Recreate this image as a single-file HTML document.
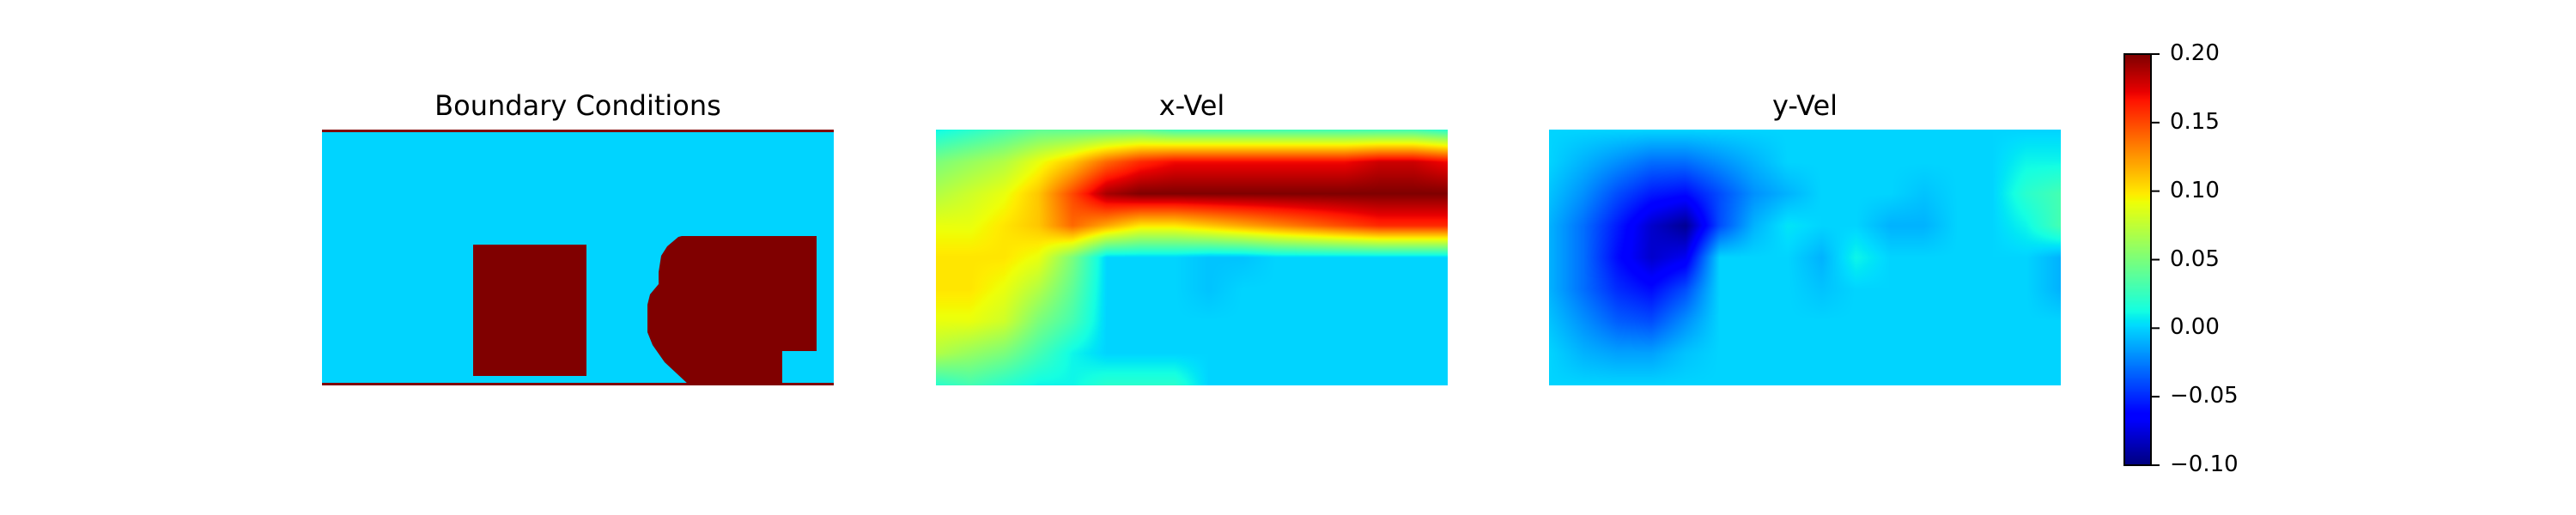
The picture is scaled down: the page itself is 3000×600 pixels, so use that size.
<!DOCTYPE html>
<html><head><meta charset="utf-8"><style>
body{margin:0;background:#fff;width:3000px;height:600px;position:relative;overflow:hidden;font-family:"Liberation Sans","DejaVu Sans",sans-serif}
.t{position:absolute;font-size:32px;color:#000;text-align:center;width:596px;top:104px;font-family:"DejaVu Sans","Liberation Sans",sans-serif}
canvas{position:absolute}
.lab{position:absolute;font-size:26px;left:2527px;font-family:"DejaVu Sans","Liberation Sans",sans-serif}
</style></head><body>
<div class="t" style="left:375px">Boundary Conditions</div>
<div class="t" style="left:1090px">x-Vel</div>
<div class="t" style="left:1804px">y-Vel</div>
<svg style="position:absolute;left:375px;top:151px" width="596" height="298">
<rect x="0" y="0" width="596" height="298" fill="#00d4ff"/>
<rect x="0" y="0" width="596" height="3" fill="#800000"/>
<rect x="0" y="295" width="596" height="3" fill="#800000"/>
<rect x="176" y="134" width="132" height="153" fill="#800000"/>
<polygon points="419,124 576,124 576,258 536,258 536,298 428,298 399,271 385,251 379,236 379,204 382,192 392,180 392,166 395,147 402,136 415,125" fill="#800000"/>
</svg>
<canvas id="cx" width="596" height="298" style="left:1090px;top:151px"></canvas>
<canvas id="cy" width="596" height="298" style="left:1804px;top:151px"></canvas>
<canvas id="cb" width="31" height="479" style="left:2474px;top:63px"></canvas>
<svg style="position:absolute;left:2470px;top:55px" width="60" height="500" id="cbax">
<rect x="4" y="8" width="31" height="479" fill="none" stroke="#000" stroke-width="2"/>
</svg>
<div id="labs"></div>
<script>
const vmin=-0.1, vmax=0.2;
const cbTicks=[0.20,0.15,0.10,0.05,0.00,-0.05,-0.10];
const cbTickLabels=["0.20","0.15","0.10","0.05","0.00","\u22120.05","\u22120.10"];
const xvelRows=[
[0.01,0.02,0.03,0.04,0.04,0.04,0.04,0.03,0.03,0.03,0.03,0.03,0.03,0.03,0.03,0.02],
[0.05,0.06,0.07,0.09,0.11,0.14,0.16,0.17,0.17,0.17,0.17,0.17,0.17,0.18,0.18,0.17],
[0.07,0.08,0.09,0.11,0.15,0.19,0.2,0.2,0.2,0.2,0.2,0.2,0.2,0.2,0.2,0.2],
[0.09,0.09,0.1,0.11,0.14,0.12,0.1,0.1,0.11,0.12,0.13,0.14,0.15,0.16,0.16,0.16],
[0.1,0.1,0.1,0.09,0.05,0.0,0.0,0.0,-0.005,-0.005,0.0,0,0,0,0,0.0],
[0.1,0.1,0.09,0.07,0.04,0,0,0,-0.005,0,0,0,0,0,0,0],
[0.09,0.09,0.08,0.05,0.03,0,0,0,0,0,0,0,0,0,0,0],
[0.07,0.06,0.05,0.03,0.01,0,0,0,0,0,0,0,0,0,0,0],
[0.02,0.03,0.02,0.01,0.01,0.02,0.02,0.02,0,0,0,0,0,0,0,0]];
const yvelRows=[
[0,0,0,0,0,0,0,0,0,0,0,0,0,0,0,0],
[0,-0.01,-0.02,-0.03,-0.03,-0.02,-0.01,0,0,0,0,0,0,0,0.01,0.01],
[-0.005,-0.02,-0.04,-0.055,-0.06,-0.04,-0.02,-0.01,0,0,0,-0.005,0,0,0.02,0.03],
[-0.01,-0.03,-0.055,-0.08,-0.095,-0.04,-0.01,0.005,0,0,-0.01,-0.01,0,0,0.01,0.03],
[-0.01,-0.03,-0.06,-0.08,-0.07,0,0,0,-0.01,0.01,0,0,0,0,0,-0.01],
[-0.01,-0.03,-0.05,-0.06,-0.04,0,0,0,-0.005,0,0,0,0,0,0,-0.01],
[-0.005,-0.02,-0.035,-0.04,-0.02,0,0,0,0,0,0,0,0,0,0,0],
[0,-0.01,-0.015,-0.015,-0.005,0,0,0,0,0,0,0,0,0,0,0],
[0,0,0,0,0,0,0,0,0,0,0,0,0,0,0,0]];
function seg(pts,t){for(let i=1;i<pts.length;i++){if(t<=pts[i][0]){const a=pts[i-1],b=pts[i];return a[1]+(b[1]-a[1])*(t-a[0])/(b[0]-a[0]);}}return pts[pts.length-1][1];}
const R=[[0,0],[0.35,0],[0.66,1],[0.89,1],[1,0.5]],G=[[0,0],[0.125,0],[0.375,1],[0.64,1],[0.91,0],[1,0]],B=[[0,0.5],[0.11,1],[0.34,1],[0.65,0],[1,0]];
function jet(v){let t=(v-vmin)/(vmax-vmin);t=Math.max(0,Math.min(1,t));return [seg(R,t)*255,seg(G,t)*255,seg(B,t)*255];}
function heat(id,rows){const c=document.getElementById(id),ctx=c.getContext('2d'),W=c.width,H=c.height,img=ctx.createImageData(W,H);
const nr=rows.length,nc=rows[0].length;
for(let y=0;y<H;y++){const fy=y/(H-1)*(nr-1),j=Math.min(nr-2,Math.floor(fy)),dy=fy-j;
for(let x=0;x<W;x++){const fx=x/(W-1)*(nc-1),i=Math.min(nc-2,Math.floor(fx)),dx=fx-i;
const v=rows[j][i]*(1-dx)*(1-dy)+rows[j][i+1]*dx*(1-dy)+rows[j+1][i]*(1-dx)*dy+rows[j+1][i+1]*dx*dy;
const col=jet(v),k=(y*W+x)*4;img.data[k]=col[0];img.data[k+1]=col[1];img.data[k+2]=col[2];img.data[k+3]=255;}}
ctx.putImageData(img,0,0);}
heat('cx',xvelRows);heat('cy',yvelRows);
const cb=document.getElementById('cb'),cctx=cb.getContext('2d');
for(let y=0;y<cb.height;y++){const v=vmax-(vmax-vmin)*y/(cb.height-1);const c=jet(v);cctx.fillStyle=`rgb(${c[0]|0},${c[1]|0},${c[2]|0})`;cctx.fillRect(0,y,cb.width,1);}
const ax=document.getElementById('cbax'),labs=document.getElementById('labs');
function yOf(v){return 63+(vmax-v)/(vmax-vmin)*479;}
cbTicks.forEach((v,i)=>{
const l=document.createElementNS('http://www.w3.org/2000/svg','line');


const yy=yOf(v)-55;l.setAttribute('x1',35);l.setAttribute('x2',45);l.setAttribute('y1',yy);l.setAttribute('y2',yy);l.setAttribute('stroke','#000');l.setAttribute('stroke-width','2');ax.appendChild(l);
const d=document.createElement('div');d.className='lab';


d.textContent=cbTickLabels[i];d.style.top=(yOf(v)-16)+'px';labs.appendChild(d);});
</script>
</body></html>
